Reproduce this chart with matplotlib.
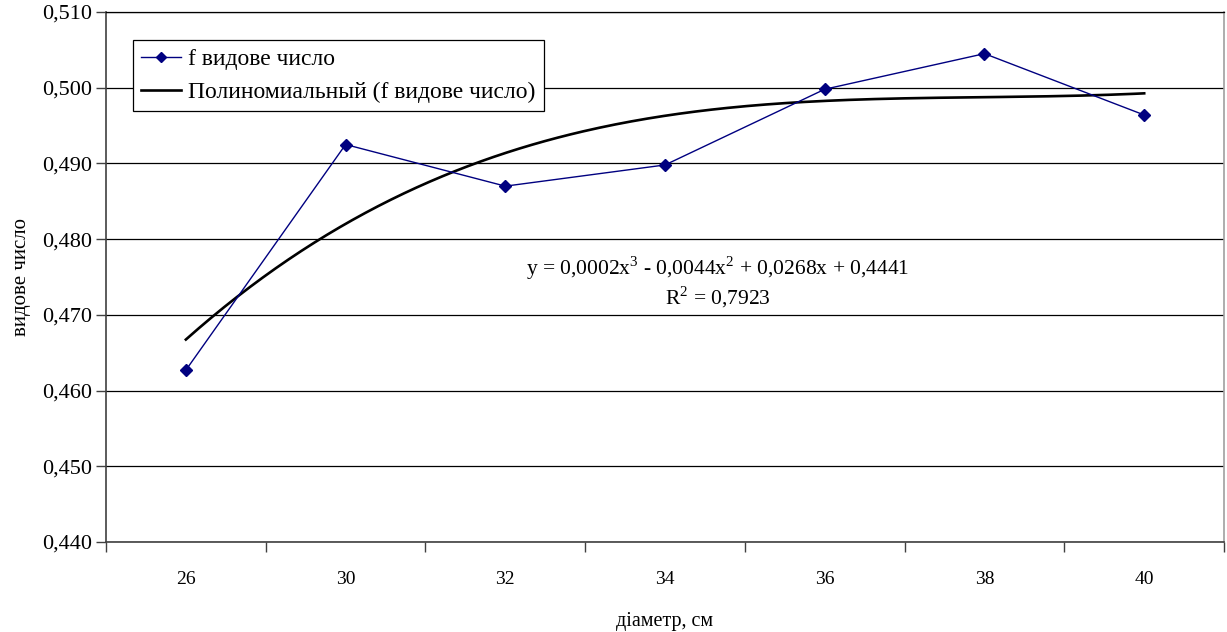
import numpy as np
import matplotlib
matplotlib.use("Agg")
import matplotlib.pyplot as plt
from matplotlib.ticker import FixedLocator, NullFormatter, FixedFormatter

# diameter classes (category axis) and form factor values
diameters = ['26', '30', '32', '34', '36', '38', '40']
form_factor = [0.4627, 0.4925, 0.4870, 0.4898, 0.4998, 0.5045, 0.4964]
y_ticks = [0.440, 0.450, 0.460, 0.470, 0.480, 0.490, 0.500, 0.510]

plt.rcParams['font.family'] = ['Liberation Serif', 'DejaVu Serif']
plt.rcParams['mathtext.fontset'] = 'custom'
plt.rcParams['mathtext.rm'] = 'Liberation Serif'
plt.rcParams['font.size'] = 14

fig = plt.figure(figsize=(12.27, 6.32), dpi=100)
ax = fig.add_axes([0.0864, 0.1424, 0.9112, 0.8386])

x = np.arange(1, len(diameters) + 1)

# polynomial (3rd order) trendline like Excel
coef = np.polyfit(x, form_factor, 3)
xt = np.linspace(x[0], x[-1], 300)
ax.plot(xt, np.polyval(coef, xt), color='black', lw=1.9, zorder=3,
        label='Полиномиальный (f видове число)')
ax.plot(x, form_factor, color='#000080', lw=1.0, marker='D', markersize=6.5,
        zorder=4, label='f видове число')

ax.set_xlim(0.5, len(diameters) + 0.5)
ax.set_ylim(0.440, 0.510)
ax.set_yticks(y_ticks)
ax.set_yticklabels([('%.3f' % v).replace('.', ',') for v in y_ticks])
ax.yaxis.grid(True, color='black', lw=0.9)
ax.set_axisbelow(True)

# ticks between categories, labels in the middle
ax.xaxis.set_major_locator(FixedLocator(np.arange(0.5, len(diameters) + 1)))
ax.xaxis.set_major_formatter(NullFormatter())
ax.xaxis.set_minor_locator(FixedLocator(x))
ax.xaxis.set_minor_formatter(FixedFormatter(diameters))
ax.tick_params(axis='x', which='major', length=7, width=1, color='#404040')
ax.tick_params(axis='x', which='minor', length=0, pad=21, labelsize=14)
ax.tick_params(axis='y', length=7, width=1, color='#404040', pad=3, labelsize=16)

for s in ['left', 'bottom']:
    ax.spines[s].set_color('#404040')
    ax.spines[s].set_linewidth(1.2)
ax.spines['right'].set_color('#a0a0a0')
ax.spines['right'].set_linewidth(1.2)
ax.spines['top'].set_color('black')
ax.spines['top'].set_linewidth(0.9)

ax.set_xlabel('діаметр, см', fontsize=14.5, labelpad=17)
ax.set_ylabel('видове число', fontsize=15, labelpad=8)

ax.text(0.547, 0.517, 'y = 0,0002x$^3$ - 0,0044x$^2$ + 0,0268x + 0,4441',
        transform=ax.transAxes, ha='center', va='center', fontsize=15.5)
ax.text(0.547, 0.462, 'R$^2$ = 0,7923',
        transform=ax.transAxes, ha='center', va='center', fontsize=15.5)

h, l = ax.get_legend_handles_labels()
leg = ax.legend(h[::-1], l[::-1], loc='upper left', bbox_to_anchor=(0.024, 0.947),
                fancybox=False, framealpha=1, edgecolor='black', fontsize=17,
                handlelength=1.7, borderpad=0.35, labelspacing=0.5,
                handletextpad=0.3, borderaxespad=0, markerscale=0.8)
leg.get_frame().set_linewidth(0.9)

fig.savefig('out.png', dpi=100)
